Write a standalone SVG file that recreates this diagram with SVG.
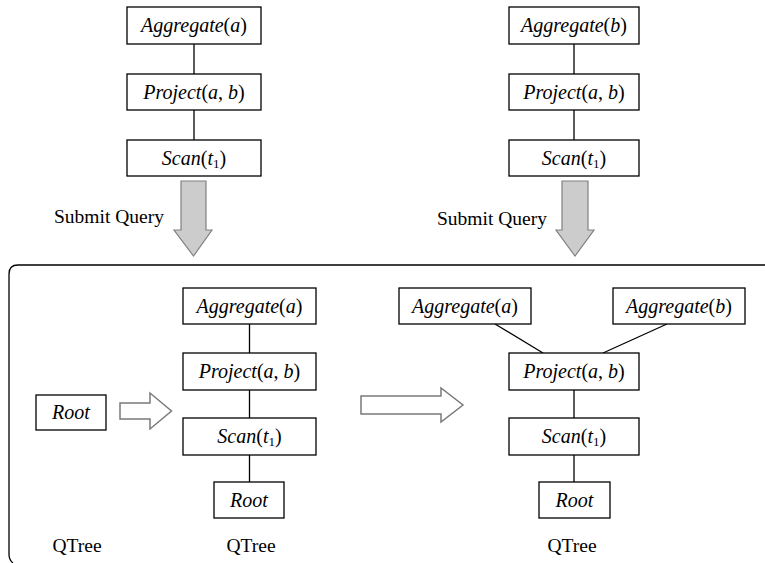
<svg xmlns="http://www.w3.org/2000/svg" width="765" height="563" viewBox="0 0 765 563">
  <style>
    .box { fill: #ffffff; stroke: #000000; stroke-width: 1.3; }
    .edge { stroke: #000000; stroke-width: 1.3; fill: none; }
    .lbl { font-family: "Liberation Serif", serif; font-size: 20px; fill: #000000; text-anchor: middle; }
    .it { font-style: italic; }
    .sub { font-size: 13px; font-style: normal; }
    .plain { font-family: "Liberation Serif", serif; font-size: 19.5px; fill: #000000; }
    .down { fill: #cccccc; stroke: #808080; stroke-width: 1.2; }
    .hollow { fill: #ffffff; stroke: #7a7a7a; stroke-width: 1.5; }
  </style>

  <!-- frame around the shared-tree area -->
  <path class="edge" d="M765 265 H18 Q9 265 9 274 V554 Q9 560 13 563" stroke-width="1.6"/>

  <!-- connectors -->
  <g id="connectors">
    <line class="edge" x1="194" y1="44" x2="194" y2="74"/>
    <line class="edge" x1="194" y1="110" x2="194" y2="140"/>
    <line class="edge" x1="574" y1="44" x2="574" y2="74"/>
    <line class="edge" x1="574" y1="110" x2="574" y2="140"/>
    <line class="edge" x1="249.5" y1="324" x2="249.5" y2="353"/>
    <line class="edge" x1="249.5" y1="390" x2="249.5" y2="418"/>
    <line class="edge" x1="249.5" y1="455" x2="249.5" y2="482"/>
    <line class="edge" x1="495" y1="324" x2="543" y2="353"/>
    <line class="edge" x1="667" y1="324" x2="603" y2="353"/>
    <line class="edge" x1="574" y1="390" x2="574" y2="418"/>
    <line class="edge" x1="574" y1="455" x2="574" y2="482"/>
  </g>

  <!-- submit arrows -->
  <g id="submit-left">
    <path class="down" d="M181 181 H206 V230 H212 L193.5 256 L174 230 H181 Z"/>
    <text class="plain" x="54" y="223">Submit Query</text>
  </g>
  <g id="submit-right">
    <path class="down" d="M562 181 H588 V230 H594 L575 256 L556 230 H562 Z"/>
    <text class="plain" x="437" y="225">Submit Query</text>
  </g>

  <!-- transition arrows -->
  <path class="hollow" d="M120 403 H150 V393 L171.5 411 L150 429 V419 H120 Z"/>
  <path class="hollow" d="M361 396 H441 V388 L463 405 L441 422 V414 H361 Z"/>

  <!-- query tree for a -->
  <g id="q1-agg">
    <rect class="box" x="127" y="7" width="134" height="37"/>
    <text class="lbl" x="194" y="32"><tspan class="it">Aggregate</tspan>(<tspan class="it">a</tspan>)</text>
  </g>
  <g id="q1-proj">
    <rect class="box" x="127" y="74" width="134" height="36"/>
    <text class="lbl" x="194" y="99"><tspan class="it">Project</tspan>(<tspan class="it">a</tspan>, <tspan class="it">b</tspan>)</text>
  </g>
  <g id="q1-scan">
    <rect class="box" x="127" y="140" width="134" height="36"/>
    <text class="lbl" x="194" y="165"><tspan class="it">Scan</tspan>(<tspan class="it">t</tspan><tspan class="sub" dy="3">1</tspan><tspan dy="-3">)</tspan></text>
  </g>

  <!-- query tree for b -->
  <g id="q2-agg">
    <rect class="box" x="509" y="7" width="130" height="37"/>
    <text class="lbl" x="574" y="32"><tspan class="it">Aggregate</tspan>(<tspan class="it">b</tspan>)</text>
  </g>
  <g id="q2-proj">
    <rect class="box" x="509" y="74" width="130" height="36"/>
    <text class="lbl" x="574" y="99"><tspan class="it">Project</tspan>(<tspan class="it">a</tspan>, <tspan class="it">b</tspan>)</text>
  </g>
  <g id="q2-scan">
    <rect class="box" x="509" y="140" width="130" height="36"/>
    <text class="lbl" x="574" y="165"><tspan class="it">Scan</tspan>(<tspan class="it">t</tspan><tspan class="sub" dy="3">1</tspan><tspan dy="-3">)</tspan></text>
  </g>

  <!-- empty QTree -->
  <g id="t0-root">
    <rect class="box" x="36" y="395" width="70" height="35"/>
    <text class="lbl" x="71" y="419"><tspan class="it">Root</tspan></text>
  </g>
  <text class="plain" x="77" y="552" text-anchor="middle">QTree</text>

  <!-- QTree after first query -->
  <g id="t1-agg">
    <rect class="box" x="183" y="288" width="133" height="36"/>
    <text class="lbl" x="249.5" y="313"><tspan class="it">Aggregate</tspan>(<tspan class="it">a</tspan>)</text>
  </g>
  <g id="t1-proj">
    <rect class="box" x="183" y="353" width="133" height="37"/>
    <text class="lbl" x="249.5" y="378"><tspan class="it">Project</tspan>(<tspan class="it">a</tspan>, <tspan class="it">b</tspan>)</text>
  </g>
  <g id="t1-scan">
    <rect class="box" x="183" y="418" width="133" height="37"/>
    <text class="lbl" x="249.5" y="443"><tspan class="it">Scan</tspan>(<tspan class="it">t</tspan><tspan class="sub" dy="3">1</tspan><tspan dy="-3">)</tspan></text>
  </g>
  <g id="t1-root">
    <rect class="box" x="214" y="482" width="70" height="36"/>
    <text class="lbl" x="249" y="507"><tspan class="it">Root</tspan></text>
  </g>
  <text class="plain" x="251" y="552" text-anchor="middle">QTree</text>

  <!-- QTree after second query -->
  <g id="t2-agg-a">
    <rect class="box" x="399" y="288" width="132" height="36"/>
    <text class="lbl" x="465" y="313"><tspan class="it">Aggregate</tspan>(<tspan class="it">a</tspan>)</text>
  </g>
  <g id="t2-agg-b">
    <rect class="box" x="613" y="288" width="132" height="36"/>
    <text class="lbl" x="679" y="313"><tspan class="it">Aggregate</tspan>(<tspan class="it">b</tspan>)</text>
  </g>
  <g id="t2-proj">
    <rect class="box" x="509" y="353" width="130" height="37"/>
    <text class="lbl" x="574" y="378"><tspan class="it">Project</tspan>(<tspan class="it">a</tspan>, <tspan class="it">b</tspan>)</text>
  </g>
  <g id="t2-scan">
    <rect class="box" x="509" y="418" width="130" height="37"/>
    <text class="lbl" x="574" y="443"><tspan class="it">Scan</tspan>(<tspan class="it">t</tspan><tspan class="sub" dy="3">1</tspan><tspan dy="-3">)</tspan></text>
  </g>
  <g id="t2-root">
    <rect class="box" x="539" y="482" width="71" height="36"/>
    <text class="lbl" x="574.5" y="507"><tspan class="it">Root</tspan></text>
  </g>
  <text class="plain" x="572" y="552" text-anchor="middle">QTree</text>
</svg>
